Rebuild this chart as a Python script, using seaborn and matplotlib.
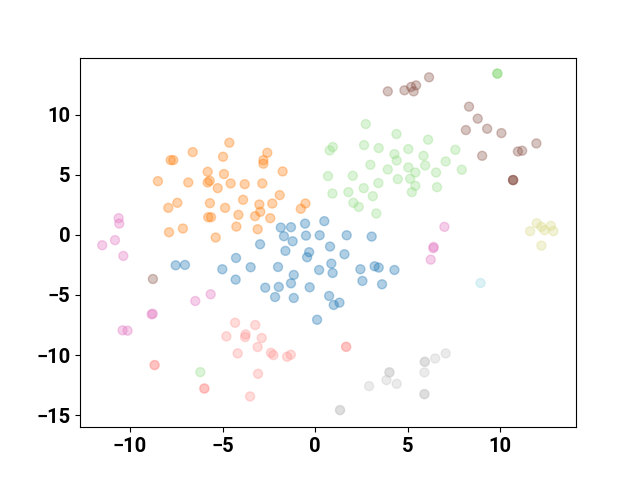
import numpy as np
import pandas as pd
import matplotlib
matplotlib.use("Agg")
import matplotlib.pyplot as plt
import seaborn as sns

# cluster points (x, y)
blue_x = [-1.85, -1.30, -0.54, 0.50, -1.68, -1.21, -0.49, 0.25, 1.71, 3.06, -2.97, -1.60,
          -0.32, -0.43, 0.81, 1.59, 0.88, 0.95, 0.22, -3.48, -2.00, -1.15, -1.30, -0.29,
          -2.69, -1.96, -2.16, -1.15, 0.76, 1.01, 1.32, 2.45, 3.22, 3.44, 4.29, 2.56,
          3.62, -7.53, -7.03, -5.01, -4.27, -4.29, 0.11]
blue_y = [0.61, 0.64, 0.94, 1.14, -0.11, -0.53, -0.06, -0.03, -0.03, -0.14, -0.78, -1.33,
          -1.44, -1.86, -0.97, -1.61, -2.39, -3.17, -2.92, -2.69, -2.67, -3.33, -4.03, -4.36,
          -4.39, -4.33, -5.17, -5.25, -5.08, -5.83, -5.64, -2.86, -2.61, -2.72, -2.92, -3.83,
          -4.11, -2.53, -2.50, -2.86, -1.92, -3.72, -7.06]

orange_x = [-4.63, -6.61, -7.80, -7.66, -4.97, -5.80, -4.92, -8.49, -6.85, -5.80, -5.69,
            -4.56, -3.80, -2.58, -2.79, -2.79, -1.75, -2.85, -5.26, -7.93, -7.44, -5.68,
            -4.86, -3.89, -4.14, -5.77, -5.62, -4.25, -7.89, -7.14, -5.37, -2.31, -3.01,
            -2.96, -3.24, -1.91, -2.42, -3.10, -0.52, -0.77]
orange_y = [7.67, 6.89, 6.22, 6.22, 6.50, 5.25, 5.06, 4.47, 4.36, 4.36, 4.50,
            4.28, 4.22, 6.83, 6.22, 5.92, 5.28, 4.28, 3.89, 2.25, 2.67, 2.64,
            2.25, 2.92, 1.67, 1.47, 1.47, 0.69, 0.22, 0.53, -0.22, 2.61, 2.53,
            1.92, 1.56, 3.31, 1.39, 0.47, 2.61, 2.17]

green_x = [2.74, 4.40, 0.96, 0.79, 2.65, 3.44, 4.29, 4.41, 5.04, 2.99, 3.93, 0.70, 2.04,
           3.42, 4.47, 5.04, 0.94, 1.80, 2.07, 2.36, 2.63, 3.12, 3.31, 9.85, 9.85, 9.85,
           6.11, 5.86, 7.58, 5.42, 5.95, 7.06, 6.54, 7.93, 5.14, 5.42, 5.23, 6.59, -6.20]
green_y = [9.22, 8.39, 7.31, 7.03, 7.47, 7.22, 6.72, 6.19, 7.14, 5.83, 5.44, 4.89, 4.92,
           4.31, 4.64, 5.61, 3.44, 3.56, 2.67, 2.33, 3.89, 3.22, 1.78, 13.42, 13.42, 13.42,
           7.92, 6.58, 7.08, 5.19, 5.78, 6.11, 5.19, 5.42, 4.67, 4.08, 3.56, 3.97, -11.42]

red_x = [-4.32, -4.79, -3.75, -3.78, -4.18, -8.67, -8.67, -5.98, -5.98, -3.51, -3.23,
         -2.88, -3.10, -2.38, -2.25, -1.51, -1.31, -3.08, 1.68, 1.68]
red_y = [-7.31, -8.44, -8.28, -8.50, -9.86, -10.83, -10.83, -12.78, -12.78, -13.44, -7.50,
         -8.58, -9.33, -9.81, -10.00, -10.14, -9.97, -11.56, -9.31, -9.31]

brown_x = [3.93, 4.83, 5.19, 5.46, 5.33, 6.16, 8.32, 8.79, 8.15, 9.30, 10.07, 9.03,
           10.96, 11.19, 11.96, 10.70, 10.70, 10.70, -8.76]
brown_y = [11.94, 12.03, 12.31, 12.44, 11.94, 13.11, 10.67, 9.67, 8.72, 8.83, 8.47, 6.58,
           6.94, 7.00, 7.61, 4.56, 4.56, 4.56, -3.67]

pink_x = [-10.61, -10.58, -10.81, -11.50, -10.36, -5.64, -6.47, -8.83, -8.77, -10.40,
          -10.13, 6.99, 6.41, 6.39, 6.25]
pink_y = [1.39, 0.94, -0.44, -0.86, -1.75, -4.94, -5.50, -6.61, -6.56, -7.94,
          -7.97, 0.67, -1.00, -1.11, -2.06]

gray_x = [4.02, 4.02, 3.86, 4.41, 2.92, 1.35, 1.35, 5.93, 5.93, 6.49, 7.06, 5.91, 5.91, 5.91]
gray_y = [-11.44, -11.44, -12.08, -12.39, -12.58, -14.58, -14.58, -10.56, -10.56, -10.28,
          -9.86, -11.44, -13.25, -13.25]

olive_x = [11.98, 12.23, 12.74, 11.62, 12.40, 12.88, 12.23]
olive_y = [0.97, 0.67, 0.75, 0.31, 0.39, 0.31, -0.89]

cyan_x = [8.94]
cyan_y = [-4.00]

# tab20 shades per cluster
groups = {
    "#1f77b4": (blue_x, blue_y),
    "#ff7f0e": (orange_x, orange_y),
    "#98df8a": (green_x, green_y),
    "#ff9896": (red_x, red_y),
    "#8c564b": (brown_x, brown_y),
    "#e377c2": (pink_x, pink_y),
    "#c7c7c7": (gray_x, gray_y),
    "#dbdb8d": (olive_x, olive_y),
    "#9edae5": (cyan_x, cyan_y),
}

rows = []
for color, (xs, ys) in groups.items():
    for x, y in zip(xs, ys):
        rows.append({"x": x, "y": y, "label": color})
df = pd.DataFrame(rows)

plt.rcParams["font.family"] = ["Roboto", "DejaVu Sans"]

fig, ax = plt.subplots(figsize=(6.4, 4.8), dpi=100)
palette = {c: c for c in groups}
sns.scatterplot(data=df, x="x", y="y", hue="label", palette=palette, alpha=0.35,
                s=42, edgecolor="face", linewidth=1, legend=False, ax=ax)
ax.set_xlabel("")
ax.set_ylabel("")
ax.set_xlim(-12.7, 14.1)
ax.set_ylim(-16.0, 14.75)
ax.set_xticks([-10, -5, 0, 5, 10])
ax.set_yticks([-15, -10, -5, 0, 5, 10])
for lab in ax.get_xticklabels() + ax.get_yticklabels():
    lab.set_fontsize(14.5)
    lab.set_fontweight("bold")

plt.savefig("out.png", dpi=100)
